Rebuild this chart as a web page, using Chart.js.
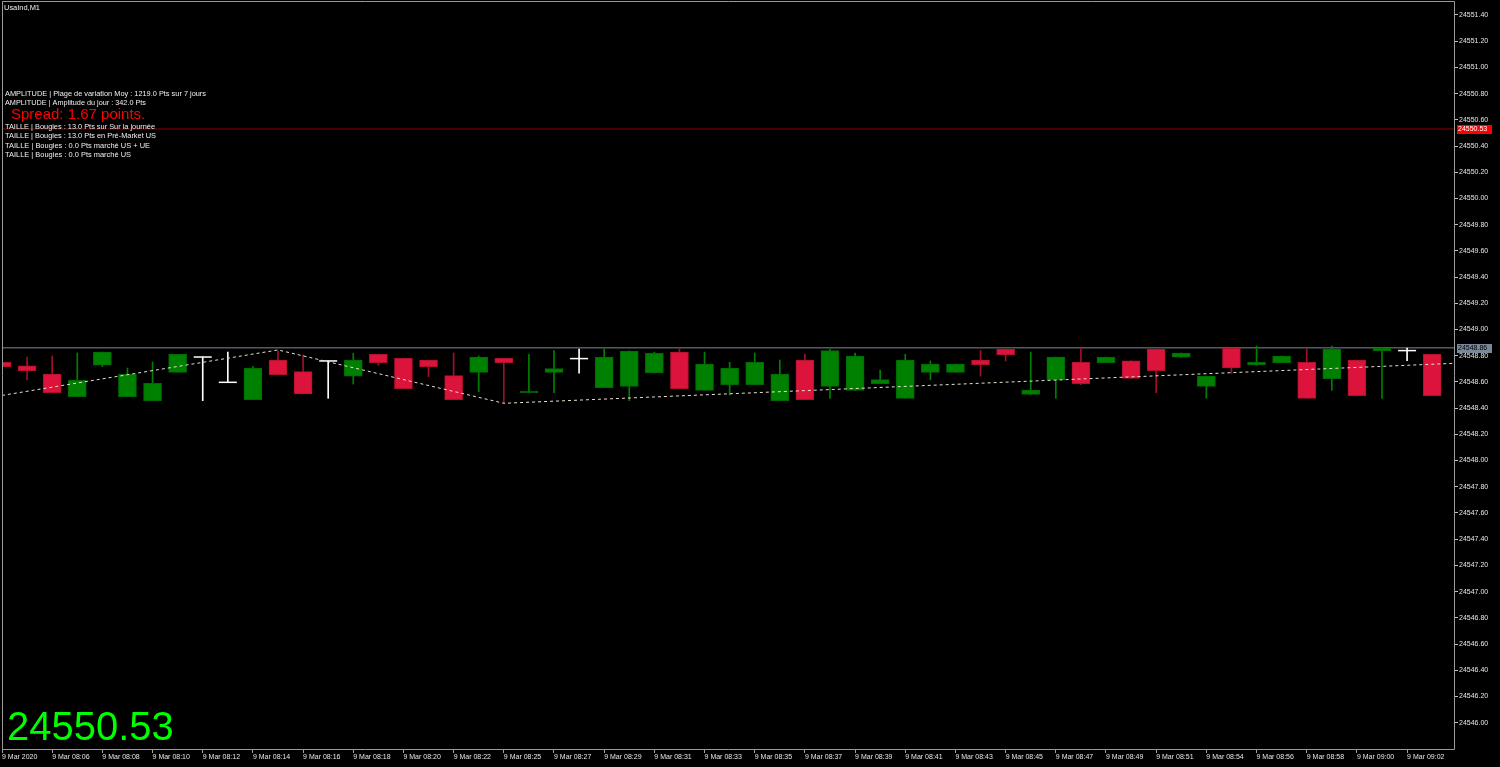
<!DOCTYPE html>
<html><head><meta charset="utf-8">
<script src="https://cdn.jsdelivr.net/npm/chart.js@4.4.1/dist/chart.umd.min.js"></script>
<style>html,body{margin:0;padding:0;background:#000;overflow:hidden}canvas{display:block}</style>
</head><body><canvas id="c" width="1500" height="767"></canvas>
<script>
// ---------- data ----------
const symbolTitle = 'UsaInd,M1';
const timeLabels = ['9 Mar 2020','9 Mar 08:06','9 Mar 08:08','9 Mar 08:10','9 Mar 08:12','9 Mar 08:14','9 Mar 08:16','9 Mar 08:18','9 Mar 08:20','9 Mar 08:22','9 Mar 08:25','9 Mar 08:27','9 Mar 08:29','9 Mar 08:31','9 Mar 08:33','9 Mar 08:35','9 Mar 08:37','9 Mar 08:39','9 Mar 08:41','9 Mar 08:43','9 Mar 08:45','9 Mar 08:47','9 Mar 08:49','9 Mar 08:51','9 Mar 08:54','9 Mar 08:56','9 Mar 08:58','9 Mar 09:00','9 Mar 09:02'];
const timeTickIndex = [0,2,4,6,8,10,12,14,16,18,20,22,24,26,28,30,32,34,36,38,40,42,44,46,48,50,52,54,56];
const priceTicks = [24546.00,24546.20,24546.40,24546.60,24546.80,24547.00,24547.20,24547.40,24547.60,24547.80,24548.00,24548.20,24548.40,24548.60,24548.80,24549.00,24549.20,24549.40,24549.60,24549.80,24550.00,24550.20,24550.40,24550.60,24550.80,24551.00,24551.20,24551.40];

const opens = [24548.750,24548.722,24548.660,24548.488,24548.727,24548.488,24548.457,24548.673,24548.790,24548.597,
  24548.465,24548.767,24548.678,24548.760,24548.643,24548.811,24548.780,24548.767,24548.648,24548.673,
  24548.780,24548.518,24548.673,24548.778,24548.556,24548.566,24548.668,24548.828,24548.536,24548.579,
  24548.579,24548.457,24548.767,24548.566,24548.536,24548.587,24548.475,24548.673,24548.673,24548.767,
  24548.851,24548.505,24548.615,24548.750,24548.747,24548.760,24548.851,24548.788,24548.566,24548.859,
  24548.729,24548.747,24548.750,24548.625,24548.767,24548.836,24548.839,24548.811];
const highs = [24548.750,24548.790,24548.798,24548.821,24548.828,24548.706,24548.752,24548.811,24548.790,24548.828,
  24548.719,24548.836,24548.806,24548.760,24548.818,24548.811,24548.780,24548.767,24548.821,24548.798,
  24548.780,24548.811,24548.839,24548.851,24548.851,24548.836,24548.828,24548.851,24548.828,24548.750,
  24548.821,24548.767,24548.813,24548.851,24548.821,24548.691,24548.811,24548.760,24548.737,24548.839,
  24548.851,24548.828,24548.790,24548.859,24548.790,24548.760,24548.851,24548.821,24548.645,24548.859,
  24548.874,24548.798,24548.851,24548.874,24548.767,24548.859,24548.859,24548.811];
const lows = [24548.716,24548.615,24548.518,24548.488,24548.717,24548.488,24548.457,24548.673,24548.457,24548.597,
  24548.465,24548.655,24548.508,24548.475,24548.584,24548.727,24548.549,24548.640,24548.465,24548.526,
  24548.442,24548.518,24548.518,24548.666,24548.556,24548.457,24548.668,24548.549,24548.536,24548.500,
  24548.579,24548.457,24548.465,24548.475,24548.536,24548.587,24548.475,24548.615,24548.673,24548.645,
  24548.760,24548.505,24548.475,24548.579,24548.747,24548.627,24548.518,24548.788,24548.475,24548.666,
  24548.729,24548.747,24548.475,24548.536,24548.495,24548.475,24548.762,24548.495];
const closes = [24548.716,24548.686,24548.518,24548.612,24548.828,24548.660,24548.589,24548.811,24548.790,24548.597,
  24548.706,24548.655,24548.508,24548.760,24548.767,24548.747,24548.549,24548.717,24548.465,24548.790,
  24548.747,24548.531,24548.701,24548.778,24548.790,24548.836,24548.818,24548.549,24548.737,24548.706,
  24548.750,24548.660,24548.465,24548.839,24548.798,24548.617,24548.767,24548.737,24548.737,24548.732,
  24548.806,24548.538,24548.790,24548.587,24548.790,24548.627,24548.686,24548.821,24548.645,24548.706,
  24548.750,24548.798,24548.475,24548.851,24548.495,24548.859,24548.839,24548.495];

const zigzagIndex = [0, 11, 20, 58];
const zigzagPrice = [24548.497, 24548.844, 24548.437, 24548.743];

const alertLevel = 24550.53;
const bidLevel = 24548.86;

const infoLines = [
  'AMPLITUDE | Plage de variation Moy : 1219.0 Pts sur 7 jours',
  'AMPLITUDE | Amplitude du jour : 342.0 Pts',
  'TAILLE | Bougies : 13.0 Pts sur Sur la journée',
  'TAILLE | Bougies : 13.0 Pts en Pré-Market US',
  'TAILLE | Bougies : 0.0 Pts marché US + UE',
  'TAILLE | Bougies : 0.0 Pts marché US'
];
const spreadText = 'Spread: 1.67 points.';
const bigPriceText = '24550.53';

// ---------- build datasets ----------
const UP = '#008000', UP_EDGE = '#006a00', DN = '#dc143c', DN_EDGE = '#b0102c';
const bodies = [], bodyFill = [], bodyEdge = [];
const wicks = [], wickColor = [];
const dojis = [];
for (let i = 0; i < opens.length; i++) {
  const o = opens[i], c = closes[i];
  wicks.push({x: i, y: [lows[i], highs[i]]});
  if (c > o) { wickColor.push('#008000'); }
  else if (c < o) { wickColor.push('#a0102a'); }
  else { wickColor.push('#ffffff'); }
  if (c === o) { dojis.push({x: i, y: o}); continue; }
  bodies.push({x: i, y: [o, c]});
  bodyFill.push(c > o ? UP : DN);
  bodyEdge.push(c > o ? UP_EDGE : DN_EDGE);
}
const X_MAX = 57.87;
const FONT = '"Liberation Sans", Arial, sans-serif';
const noPad = s => { s.paddingLeft = 0; s.paddingRight = 0; s.paddingTop = 0; s.paddingBottom = 0; };

const overlayPlugin = {
  id: 'overlay',
  afterDraw(chart) {
    const ctx = chart.ctx, a = chart.chartArea, ys = chart.scales.y;
    ctx.save();
    // frame
    ctx.strokeStyle = '#9a9a9a'; ctx.lineWidth = 1;
    ctx.beginPath();
    ctx.moveTo(a.left + 0.5, a.bottom + 0.5); ctx.lineTo(a.left + 0.5, a.top - 0.5);
    ctx.lineTo(a.right + 0.5, a.top - 0.5); ctx.lineTo(a.right + 0.5, a.bottom + 0.5);
    ctx.lineTo(a.left + 0.5, a.bottom + 0.5);
    ctx.stroke();
    // price labels
    const tag = (price, bg, fg) => {
      const y = Math.round(ys.getPixelForValue(price));
      ctx.fillStyle = bg; ctx.fillRect(a.right + 3, y - 4, 35, 9);
      ctx.fillStyle = fg; ctx.font = '7px ' + FONT; ctx.textBaseline = 'middle'; ctx.textAlign = 'left';
      ctx.fillText(price.toFixed(2), a.right + 4, y + 0.5);
    };
    tag(alertLevel, '#ff0000', '#ffffff');
    tag(bidLevel, '#778899', '#000000');
    // texts
    ctx.textBaseline = 'alphabetic'; ctx.textAlign = 'left';
    ctx.fillStyle = '#f0f0f0'; ctx.font = '8px ' + FONT;
    ctx.fillText(symbolTitle, 4, 10, 36);
    const base = [96, 105, 129, 138, 148, 157];
    const widths = [201, 141, 150, 151, 145, 126];
    infoLines.forEach((t, k) => ctx.fillText(t, 5, base[k], widths[k]));
    ctx.fillStyle = '#ff0000'; ctx.font = '15px ' + FONT;
    ctx.fillText(spreadText, 11, 119);
    ctx.fillStyle = '#00ff00'; ctx.font = '40px ' + FONT;
    ctx.fillText(bigPriceText, 7, 740);
    ctx.restore();
  }
};

new Chart(document.getElementById('c'), {
  data: {
    datasets: [
      { type: 'line', label: 'zigzag', data: zigzagIndex.map((x, k) => ({x, y: zigzagPrice[k]})),
        borderColor: '#e8e0d0', borderWidth: 1, borderDash: [3, 3], pointRadius: 0, tension: 0, order: 0 },
      { type: 'line', label: 'doji', data: dojis, showLine: false, pointStyle: 'line', pointRadius: 9,
        pointBorderWidth: 1.5, pointBorderColor: '#ffffff', pointBackgroundColor: '#ffffff', order: 1 },
      { type: 'bar', label: 'body', data: bodies, backgroundColor: bodyFill, borderColor: bodyEdge,
        borderWidth: 1, borderSkipped: false, barThickness: 18, grouped: false, order: 2 },
      { type: 'bar', label: 'wick', data: wicks, backgroundColor: wickColor, borderWidth: 0,
        barThickness: 1, grouped: false, order: 3 },
      { type: 'line', label: 'alert', data: [{x: 0, y: alertLevel}, {x: X_MAX, y: alertLevel}],
        borderColor: '#8b0000', borderWidth: 1, pointRadius: 0, order: 4 },
      { type: 'line', label: 'bid', data: [{x: 0, y: bidLevel}, {x: X_MAX, y: bidLevel}],
        borderColor: '#778899', borderWidth: 1, pointRadius: 0, order: 4 }
    ]
  },
  options: {
    responsive: false, animation: false, devicePixelRatio: 1,
    layout: { autoPadding: false, padding: { left: 2, top: 2, right: 0, bottom: 0 } },
    plugins: { legend: { display: false }, tooltip: { enabled: false } },
    scales: {
      x: {
        type: 'linear', position: 'bottom', min: 0, max: X_MAX, offset: false,
        afterBuildTicks: s => { s.ticks = timeTickIndex.map(v => ({value: v})); },
        afterFit: s => { s.height = 18; noPad(s); },
        grid: { display: true, offset: false, drawOnChartArea: false, drawTicks: true, tickLength: 4, color: '#a0a0a0' },
        border: { display: false },
        ticks: { autoSkip: false, maxRotation: 0, minRotation: 0, align: 'start', padding: 0,
          color: '#e6e6e6', font: { family: FONT, size: 7 },
          callback: (v, i) => timeLabels[i] }
      },
      y: {
        type: 'linear', position: 'right', min: 24545.799, max: 24551.499,
        afterBuildTicks: s => { s.ticks = priceTicks.map(v => ({value: v})); },
        afterFit: s => { s.width = 46; noPad(s); },
        grid: { display: true, drawOnChartArea: false, drawTicks: true, tickLength: 4, color: '#c0c0c0' },
        border: { display: false },
        ticks: { padding: 1, color: '#e6e6e6', font: { family: FONT, size: 7 },
          callback: v => Number(v).toFixed(2) }
      }
    }
  },
  plugins: [overlayPlugin]
});
</script>
</body></html>
